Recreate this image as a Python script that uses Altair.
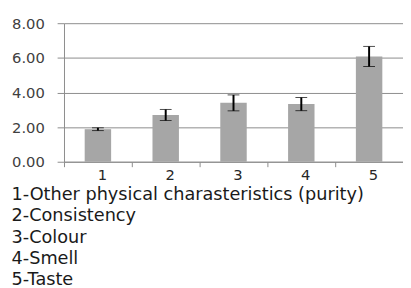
import altair as alt
import pandas as pd

categories = ["1", "2", "3", "4", "5"]
means = [1.88, 2.70, 3.40, 3.33, 6.08]
errors = [0.08, 0.32, 0.46, 0.38, 0.58]
y_ticks = [0, 2, 4, 6, 8]
notes = [
    "1-Other physical charasteristics (purity)",
    "2-Consistency",
    "3-Colour",
    "4-Smell",
    "5-Taste",
]

df = pd.DataFrame({"cat": categories, "mean": means, "err": errors})
df["lo"] = df["mean"] - df["err"]
df["hi"] = df["mean"] + df["err"]

x_axis = alt.Axis(
    title=None, labelAngle=0, tickBand="extent", domainColor="#8c8c8c",
    tickColor="#8c8c8c", tickSize=5, labelFontSize=15, labelFont="DejaVu Sans",
    labelColor="#262626", labelPadding=1, labelOffset=4, grid=False,
)
y_axis = alt.Axis(
    title=None, values=y_ticks, format=".2f", grid=True,
    gridColor="#8c8c8c", domainColor="#8c8c8c", tickColor="#8c8c8c",
    tickSize=7, labelPadding=13, labelFontSize=15, labelFont="DejaVu Sans",
    labelColor="#404040", labelOverlap=False,
)
x_scale = alt.Scale(paddingInner=0, paddingOuter=0)
y_scale = alt.Scale(domain=[0, 8])

bars = alt.Chart(df).mark_bar(color="#a6a6a6", width=alt.RelativeBandSize(0.39)).encode(
    x=alt.X("cat:N", sort=categories, scale=x_scale, axis=x_axis),
    y=alt.Y("mean:Q", scale=y_scale, axis=y_axis),
)

err = alt.Chart(df).mark_errorbar(
    ticks=alt.MarkConfig(size=12, strokeWidth=2, color="black"),
    rule=alt.MarkConfig(strokeWidth=2, color="black"),
    color="black",
).encode(
    x=alt.X("cat:N", sort=categories, scale=x_scale, axis=x_axis),
    y=alt.Y("lo:Q", scale=y_scale, axis=y_axis),
    y2="hi:Q",
)

chart = (bars + err).properties(
    width=345,
    height=141,
    autosize=alt.AutoSizeParams(type="none"),
    padding={"left": 57, "top": 13, "right": 0, "bottom": 126},
    title=alt.TitleParams(
        text=notes, orient="bottom", anchor="start", fontSize=18,
        font="DejaVu Sans", fontWeight="normal", color="#1a1a1a",
        lineHeight=21.7, offset=4,
    ),
).configure_view(stroke=None)

chart.save("out.html", embed_options={"renderer": "svg", "actions": False})
